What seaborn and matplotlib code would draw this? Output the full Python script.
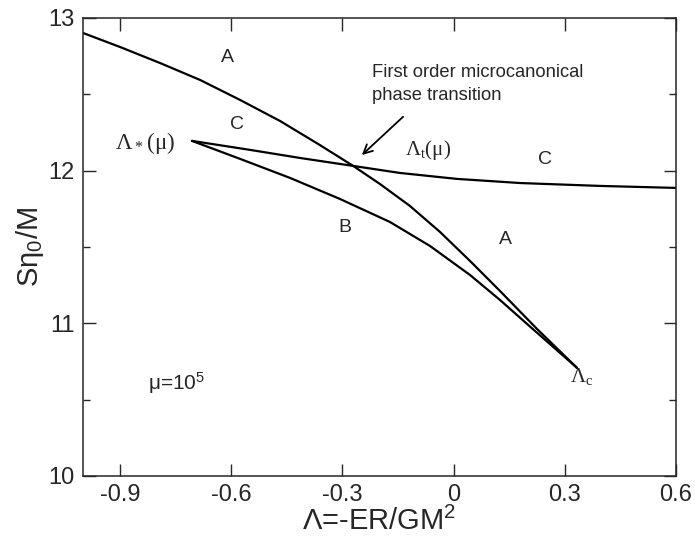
import numpy as np
import pandas as pd
import matplotlib
matplotlib.use("Agg")
import matplotlib.pyplot as plt
import seaborn as sns
from matplotlib.ticker import MultipleLocator

# curve values
upper_x = [-1.000, -0.900, -0.792, -0.684, -0.576, -0.468, -0.361, -0.271, -0.199, -0.118, -0.037, 0.044, 0.125, 0.225, 0.333]
upper_y = [12.902, 12.810, 12.705, 12.594, 12.463, 12.325, 12.168, 12.031, 11.913, 11.769, 11.599, 11.409, 11.212, 10.963, 10.708]

lower_x = [-0.706, -0.576, -0.441, -0.307, -0.172, -0.064, 0.044, 0.125, 0.198, 0.333]
lower_y = [12.195, 12.077, 11.952, 11.815, 11.664, 11.507, 11.317, 11.153, 10.996, 10.708]

flat_x = [-0.706, -0.549, -0.414, -0.271, -0.145, 0.009, 0.179, 0.395, 0.600]
flat_y = [12.195, 12.136, 12.083, 12.031, 11.985, 11.946, 11.919, 11.900, 11.887]

xticks = [-0.9, -0.6, -0.3, 0, 0.3, 0.6]
xticklabels = ["-0.9", "-0.6", "-0.3", "0", "0.3", "0.6"]
yticks = [10, 11, 12, 13]

sns.set_style("ticks")
plt.rcParams["font.family"] = ["Liberation Sans", "DejaVu Sans"]
plt.rcParams["mathtext.default"] = "regular"
plt.rcParams["axes.unicode_minus"] = False

curves = pd.concat([
    pd.DataFrame({"x": upper_x, "y": upper_y, "curve": "upper"}),
    pd.DataFrame({"x": lower_x, "y": lower_y, "curve": "lower"}),
    pd.DataFrame({"x": flat_x, "y": flat_y, "curve": "flat"}),
])

fig = plt.figure(figsize=(6.95, 5.42), dpi=100)
ax = fig.add_axes([0.1194, 0.1218, 0.8533, 0.845])

for name, grp in curves.groupby("curve", sort=False):
    sns.lineplot(data=grp, x="x", y="y", sort=False, color="black", linewidth=1.6, ax=ax, legend=False)

ax.set_xlim(-1.0, 0.6)
ax.set_ylim(10, 13)
ax.set_xticks(xticks)
ax.set_xticklabels(xticklabels)
ax.set_yticks(yticks)
ax.yaxis.set_minor_locator(MultipleLocator(0.5))
ax.tick_params(which="major", direction="in", length=9, width=1, top=True, right=True, labelsize=17, pad=6)
ax.tick_params(which="minor", direction="in", length=5, width=1, left=True, right=True)
for s in ax.spines.values():
    s.set_linewidth(1.1)

ax.set_xlabel("Λ=-ER/GM$^2$", fontsize=21, labelpad=0)
ax.set_ylabel("Sη$_0$/M", fontsize=21, labelpad=2)

txt = dict(fontsize=14, ha="center", va="center")
ax.text(-0.609, 12.74, "A", **txt)
ax.text(0.139, 11.546, "A", **txt)
ax.text(-0.584, 12.30, "C", **txt)
ax.text(0.247, 12.07, "C", **txt)
ax.text(-0.293, 11.625, "B", **txt)

serif = ["Liberation Serif", "DejaVu Serif"]
ax.text(-0.752, 12.18, "Λ$_*$(μ)", fontsize=16.5, ha="right", va="center", family=serif)
ax.text(-0.131, 12.135, "Λ$_t$(μ)", fontsize=15, ha="left", va="center", family=serif)
ax.text(0.314, 10.65, "Λ$_c$", fontsize=15, ha="left", va="center", family=serif)
ax.text(-0.825, 10.61, "μ=10$^5$", fontsize=15, ha="left", va="center")

ax.text(-0.22, 12.565, "First order microcanonical\nphase transition", fontsize=13.2,
        ha="left", va="center", linespacing=1.45)
ax.annotate("", xy=(-0.253, 12.09), xytext=(-0.131, 12.365),
            arrowprops=dict(arrowstyle="->", color="black", lw=1.3, mutation_scale=16))

fig.savefig("out.png", dpi=100)
